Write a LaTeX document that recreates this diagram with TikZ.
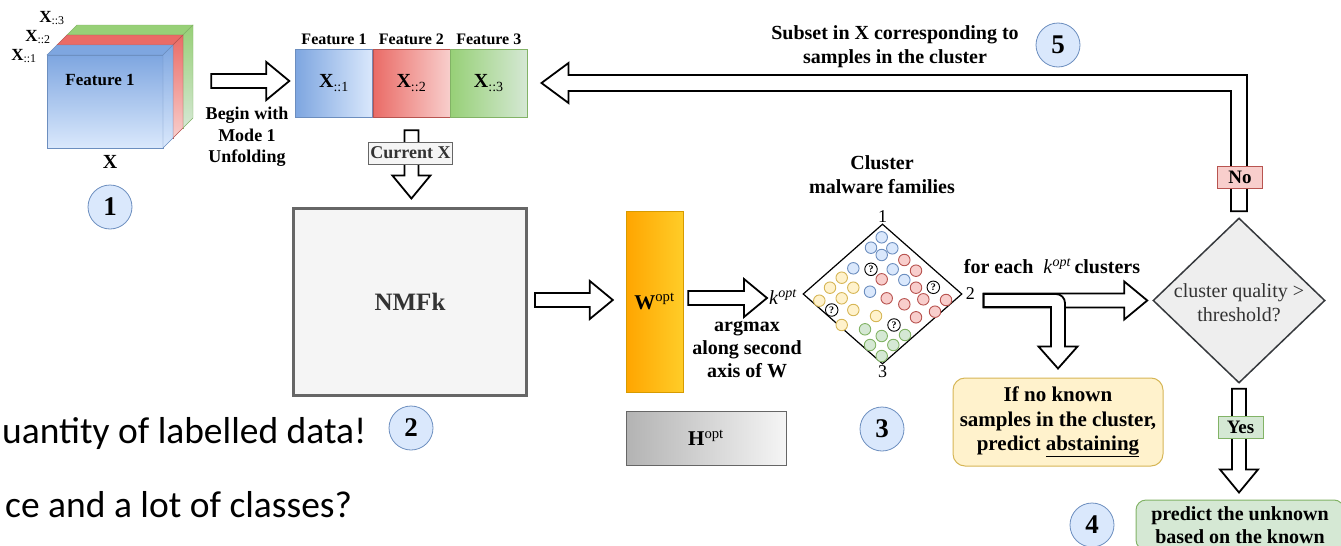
\documentclass[tikz,border=0pt]{standalone}
\usepackage{fontspec}
\setmainfont{Liberation Serif}
\newfontfamily\slidefont{Carlito}
\usetikzlibrary{positioning,calc,shapes.geometric,shadings}

\definecolor{blueline}{HTML}{6C8EBF}
\definecolor{bluefill}{HTML}{DAE8FC}
\definecolor{bluedark}{HTML}{7EA6E0}
\definecolor{redline}{HTML}{B85450}
\definecolor{redfill}{HTML}{F8CECC}
\definecolor{reddark}{HTML}{EA6B66}
\definecolor{greenline}{HTML}{82B366}
\definecolor{greenfill}{HTML}{D5E8D4}
\definecolor{greendark}{HTML}{97D077}
\definecolor{yellowline}{HTML}{D6B656}
\definecolor{yellowfill}{HTML}{FFF2CC}
\definecolor{grayline}{HTML}{666666}
\definecolor{grayfill}{HTML}{F5F5F5}
\definecolor{graydark}{HTML}{B3B3B3}
\definecolor{graytext}{HTML}{333333}
\definecolor{orangeline}{HTML}{D79B00}
\definecolor{orangedark}{HTML}{FFA500}
\definecolor{orangelight}{HTML}{FFCD28}
\definecolor{decfill}{HTML}{EEEEEE}
\definecolor{decline}{HTML}{36393D}

% hollow block arrows: #1 = tail, #2 = tip
\newcommand{\hblock}[2]{%
  \draw[blockarrow] let \p1=(#1), \p2=(#2) in
    (\x1,\y2+7pt) -- (\x2-23pt,\y2+7pt) -- (\x2-23pt,\y2+19pt) -- (\x2,\y2)
    -- (\x2-23pt,\y2-19pt) -- (\x2-23pt,\y2-7pt) -- (\x1,\y2-7pt) -- cycle;}
\newcommand{\vblock}[2]{%
  \draw[blockarrow] let \p1=(#1), \p2=(#2) in
    (\x1-7pt,\y1) -- (\x1-7pt,\y2+23pt) -- (\x1-19pt,\y2+23pt) -- (\x1,\y2)
    -- (\x1+19pt,\y2+23pt) -- (\x1+7pt,\y2+23pt) -- (\x1+7pt,\y1) -- cycle;}

\begin{document}
\begin{tikzpicture}[x=1pt,y=-1pt,
  lbl/.style={font=\bfseries\fontsize{20}{24}\selectfont,align=center,inner sep=1pt},
  numcirc/.style={circle,draw=blueline,fill=bluefill,line width=0.8pt,minimum size=44pt,inner sep=0pt,font=\bfseries\fontsize{27}{27}\selectfont},
  unfold/.style={draw=#1line,left color=#1dark,right color=#1fill,minimum width=77pt,minimum height=68pt,inner sep=0pt,font=\bfseries\fontsize{20}{24}\selectfont},
  tag/.style={draw=#1line,fill=#1fill,inner sep=1.5pt,minimum width=45pt,minimum height=22pt,font=\bfseries\fontsize{19}{22}\selectfont},
  dot/.style={circle,draw=#1line,fill=#1fill,minimum size=11.5pt,inner sep=0pt,line width=0.9pt},
  qdot/.style={circle,draw=black,fill=white,minimum size=12.5pt,inner sep=0pt,line width=0.9pt,font=\bfseries\fontsize{10}{10}\selectfont},
  blockarrow/.style={draw=black,fill=white,line width=1.8pt,line join=miter},
]
\useasboundingbox (0,0) rectangle (1341,546);

% tensor X as three stacked slabs
\foreach \d/\col in {20/green,10/red,0/blue}{
  \shadedraw[draw=\col line,top color=\col dark,bottom color=\col fill] (47+\d,55-\d) rectangle ++(116,93);
  \filldraw[draw=\col line,fill=\col dark] (47+\d,55-\d) -- ++(10,-10) -- ++(116,0) -- ++(-10,10) -- cycle;
  \shadedraw[draw=\col line,top color=\col dark,bottom color=\col fill] (163+\d,55-\d) -- ++(10,-10) -- ++(0,93) -- ++(-10,10) -- cycle;
}
\node[minimum width=116pt,minimum height=93pt,inner sep=0pt] (xa) at (105,101.5) {};
\node[font=\bfseries\fontsize{17}{20}\selectfont] (feat) at (100,80) {Feature 1};
\node[font=\bfseries\fontsize{17}{20}\selectfont,inner sep=0pt] (s3) at (52,18) {X\textsubscript{\mdseries ::3}};
\node[font=\bfseries\fontsize{17}{20}\selectfont,inner sep=0pt] (s2) at (38,37) {X\textsubscript{\mdseries ::2}};
\node[font=\bfseries\fontsize{17}{20}\selectfont,inner sep=0pt] (s1) at (24,56) {X\textsubscript{\mdseries ::1}};
\node[font=\bfseries\fontsize{20}{24}\selectfont] (xlbl) at (110,162) {X};
\node[numcirc] (n1) at (110,207) {1};

% mode 1 unfolding
\node[unfold=blue] (u1) at (334,83) {X\textsubscript{\mdseries ::1}};
\node[unfold=red,right=0pt of u1] (u2) {X\textsubscript{\mdseries ::2}};
\node[unfold=green,right=0pt of u2] (u3) {X\textsubscript{\mdseries ::3}};
\foreach \u/\t in {u1/Feature 1,u2/Feature 2,u3/Feature 3}
  \node[font=\bfseries\fontsize{16}{19}\selectfont,inner sep=1pt,above=3pt of \u] (h\u) {\t};
\node[font=\bfseries\fontsize{18}{21.5}\selectfont,align=center] (begin) at (247,137) {Begin with\\Mode 1\\Unfolding};
\hblock{$(xa.east)+(48,0)$}{$(u1.west)+(-6,-2)$}

% NMFk and its factors
\node[draw=grayline,line width=3pt,fill=grayfill,minimum width=233pt,minimum height=187pt,text=graytext,font=\bfseries\fontsize{25}{30}\selectfont] (nmfk) at (410,301.5) {NMFk};
\node[numcirc] (n2) at (411,428) {2};
\vblock{$(u2.south)+(0,13)$}{$(nmfk.north)+(0,-8)$}
\node[tag=gray,text=graytext,font=\bfseries\fontsize{18}{21}\selectfont,minimum width=84pt] (curx) at (410.5,153) {Current X};

\node[draw=orangeline,left color=orangedark,right color=orangelight,minimum width=57pt,minimum height=181pt,inner sep=0pt,font=\fontsize{21}{24}\selectfont] (wopt) at (654.5,301.5) {\textbf{W}\textsuperscript{opt}};
\node[draw=grayline,left color=graydark,right color=grayfill,minimum width=160pt,minimum height=54pt,inner sep=0pt,font=\fontsize{21}{24}\selectfont] (hopt) at (706,438) {\textbf{H}\textsuperscript{opt}};
\hblock{$(nmfk.east)+(7,0)$}{$(wopt.west)+(-13,-1.5)$}

\node[anchor=west,inner sep=1pt,font=\fontsize{20}{24}\selectfont] (kopt) at (768,297) {\textit{k}\textsuperscript{\textit{opt}}};
\hblock{$(wopt.east)+(5,0)$}{$(kopt.west)+(-1,1)$}
\node[lbl,font=\bfseries\fontsize{20}{23}\selectfont] (argmax) at (747,350) {argmax\\along second\\axis of W};

% clustering of the samples
\node[lbl] (cltitle) at (882,175) {Cluster\\malware families};
\node[diamond,draw,line width=1.2pt,minimum width=159pt,minimum height=140pt,inner sep=0pt] (clust) at (882.5,294) {};
\node[font=\fontsize{18}{20}\selectfont,inner sep=1pt,above=0pt of clust.north] (v1) {1};
\node[font=\fontsize{18}{20}\selectfont,inner sep=1pt,right=2pt of clust.east] (v2) {2};
\node[font=\fontsize{18}{20}\selectfont,inner sep=1pt,below=0pt of clust.south] (v3) {3};
\foreach \x/\y [count=\i] in {881.7/237.3,871/247.7,881.7/255,892.3/248.3,853.3/268.3,892.7/269.3,904.3/280,870/291.7}
  \node[dot=blue] (b\i) at (\x,\y) {};
\foreach \x/\y [count=\i] in {904.3/260,916/270.7,881.7/279.3,916/287.7,886.7/298.3,904.3/304.3,923.3/299.3,946/300,935/311.7,916/317.3}
  \node[dot=red] (r\i) at (\x,\y) {};
\foreach \x/\y [count=\i] in {841.7/277.7,830/287.7,853.3/287.7,841.7/298.3,819.3/300.7,853.3/310,841.7/325,876/316}
  \node[dot=yellow] (y\i) at (\x,\y) {};
\foreach \x/\y [count=\i] in {865/329.3,881.7/336,905/335,870/345,893.3/345,881.7/356}
  \node[dot=green] (g\i) at (\x,\y) {};
\foreach \x/\y [count=\i] in {871/269.3,831.7/310,933.3/287.3,894/325}
  \node[qdot] (q\i) at (\x,\y) {?};
\node[numcirc] (n3) at (882,429) {3};

% decision per cluster
\node[diamond,draw=decline,fill=decfill,line width=1.5pt,minimum width=172pt,minimum height=165pt,inner sep=0pt] (dec) at (1239,300.5) {};
\node[align=center,text=graytext,font=\fontsize{20}{24}\selectfont,inner sep=0pt] (dectxt) at ($(dec.center)+(0,2)$) {cluster quality >\\threshold?};
\node[inner sep=1pt,font=\fontsize{20}{24}\selectfont] (foreach) at (1052,266) {\textbf{for each}~~\textit{k}\textsuperscript{\textit{opt}}\,\textbf{clusters}};

\node[draw=yellowline,fill=yellowfill,line width=1pt,rounded corners=12pt,minimum width=210pt,minimum height=88pt,align=center,font=\bfseries\fontsize{21}{24.5}\selectfont] (abst) at (1058,422) {If no known\\samples in the cluster,\\predict \underline{abstaining}};
\node[draw=greenline,fill=greenfill,line width=1pt,rounded corners=10pt,minimum width=208pt,minimum height=50pt,align=center,font=\bfseries\fontsize{20}{23}\selectfont] (pred) at (1240,525) {predict the unknown\\based on the known};
\node[numcirc] (n4) at (1092,525) {4};

\hblock{$(clust.east)+(21,0)$}{$(dec.west)+(-5,0)$}
\draw[blockarrow] let \p1=($(clust.east)+(21,0)$), \p2=($(abst.north)+(0,-9)$), \p3=(dec.west) in
  (\x1,\y3+6.5pt) [rounded corners=9pt] -- (\x2+7pt,\y3+6.5pt) -- (\x2+7pt,\y2+40pt) [sharp corners]
  -- (\x2+7pt,\y2+22pt) -- (\x2+19.5pt,\y2+22pt) -- (\x2,\y2) -- (\x2-19.5pt,\y2+22pt)
  -- (\x2-7pt,\y2+22pt) -- (\x2-7pt,\y3-6.5pt) -- (\x1,\y3-6.5pt) -- cycle;

\vblock{$(dec.south)+(0,5)$}{$(pred.north)+(0,-7)$}
\node[tag=green] (yes) at (1240.5,427.5) {Yes};

% feedback loop back to the unfolded tensor
\draw[blockarrow] let \p1=($(dec.north)+(0,-6)$), \p2=($(u3.east)+(14,0)$) in
  (\x1-8pt,\y1) -- (\x1-8pt,\y2-8pt) -- (\x2+27pt,\y2-8pt) -- (\x2+27pt,\y2-20pt) -- (\x2,\y2)
  -- (\x2+27pt,\y2+20pt) -- (\x2+27pt,\y2+8pt) -- (\x1+8pt,\y2+8pt) -- (\x1+8pt,\y1) -- cycle;
\node[tag=red] (no) at (1240,177.5) {No};
\node[lbl] (subset) at (895,47) {Subset in X corresponding to\\samples in the cluster};
\node[numcirc] (n5) at (1058,45) {5};

% slide text behind the diagram
\node[anchor=base west,inner sep=0pt,font=\slidefont\fontsize{37.5}{45}\selectfont] (note1) at (2,443) {uantity of labelled data!};
\node[anchor=base west,inner sep=0pt,font=\slidefont\fontsize{37.5}{45}\selectfont] (note2) at (5,517) {ce and a lot of classes?};
\end{tikzpicture}
\end{document}
